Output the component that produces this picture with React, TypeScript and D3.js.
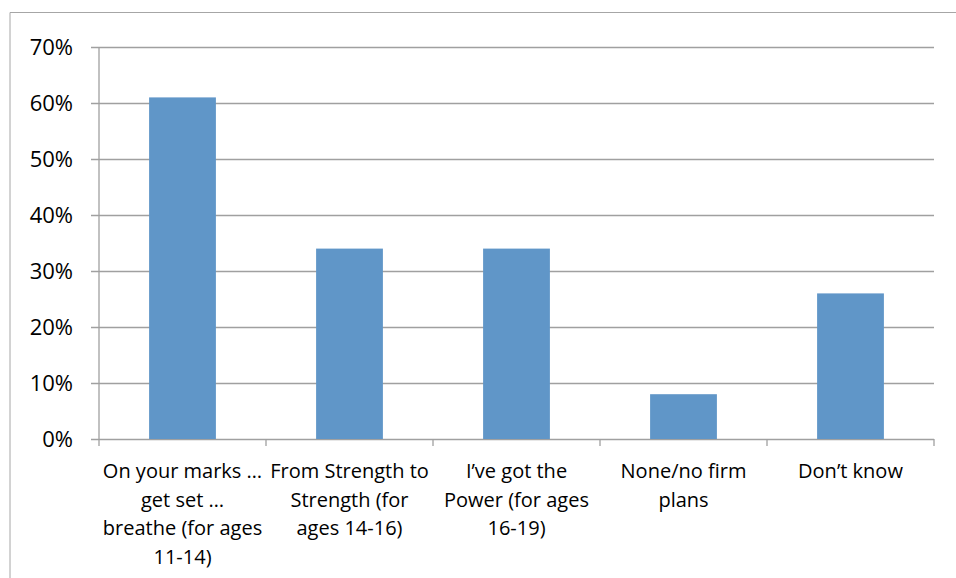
import React from "react";
import * as d3 from "d3";

const categories: string[][] = [
  ["On your marks …", "get set …", "breathe (for ages", "11-14)"],
  ["From Strength to", "Strength (for", "ages 14-16)"],
  ["I’ve got the", "Power (for ages", "16-19)"],
  ["None/no firm", "plans"],
  ["Don’t know"],
];
const values: number[] = [0.61, 0.34, 0.34, 0.08, 0.26];
const yTicks: number[] = [0, 0.1, 0.2, 0.3, 0.4, 0.5, 0.6, 0.7];

const W = 956;
const H = 578;
const left = 99;
const right = 934;
const top = 47;
const bottom = 439;
const font = "'Open Sans', sans-serif";

export default function App() {
  const keys = categories.map((_, i) => String(i));
  const x = d3.scaleBand<string>().domain(keys).range([left, right]).paddingInner(0.6).paddingOuter(0.3);
  const band = d3.scaleBand<string>().domain(keys).range([left, right]);
  const y = d3.scaleLinear().domain([0, 0.7]).range([bottom, top]);
  const fmt = d3.format(".0%");
  const grid = "#a0a0a0";

  return (
    <div style={{ position: "fixed", left: 0, top: 0 }}>
      <svg width={W} height={H} style={{ display: "block", background: "#fff" }}>
        {/* outer chart frame */}
        <line x1={10} x2={W} y1={12.5} y2={12.5} stroke="#a6a6a6" strokeWidth={1} />
        <line x1={10} x2={10} y1={12.5} y2={H} stroke="#a6a6a6" strokeWidth={1} />

        {/* gridlines and y ticks */}
        {yTicks.map((t) => (
          <g key={t}>
            <line x1={91} x2={right} y1={Math.round(y(t)) + 0.5} y2={Math.round(y(t)) + 0.5} stroke={grid} strokeWidth={1.3} />
            <text x={73} y={y(t)} dy="0.36em" textAnchor="end" fontFamily={font} fontSize={22} fill="#000">
              {fmt(t)}
            </text>
          </g>
        ))}

        {/* y axis */}
        <line x1={left} x2={left} y1={top} y2={bottom} stroke={grid} strokeWidth={1.3} />

        {/* x axis ticks */}
        {[...keys.map((k) => band(k)!), right].map((v, i) => (
          <line key={i} x1={v} x2={v} y1={bottom} y2={bottom + 7} stroke={grid} strokeWidth={1.3} />
        ))}

        {/* bars */}
        {values.map((v, i) => (
          <rect key={i} x={x(String(i))} y={y(v)} width={x.bandwidth()} height={bottom - y(v)} fill="#6096c8" />
        ))}

        {/* category labels */}
        {categories.map((lines, i) => (
          <text key={i} x={band(String(i))! + band.bandwidth() / 2} y={478} textAnchor="middle" fontFamily={font} fontSize={20} fill="#000">
            {lines.map((l, j) => (
              <tspan key={j} x={band(String(i))! + band.bandwidth() / 2} dy={j === 0 ? 0 : 28.5}>
                {l}
              </tspan>
            ))}
          </text>
        ))}
      </svg>
    </div>
  );
}
